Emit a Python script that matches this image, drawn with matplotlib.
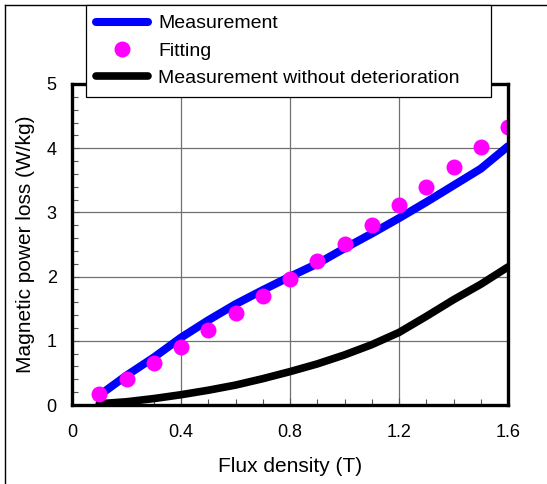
import matplotlib.pyplot as plt
from matplotlib.lines import Line2D
from matplotlib.ticker import MultipleLocator
import numpy as np

plt.rcParams['font.family'] = ['Liberation Sans', 'DejaVu Sans']

# flux density (T)
flux = [0.1, 0.2, 0.3, 0.4, 0.5, 0.6, 0.7, 0.8, 0.9, 1.0, 1.1, 1.2, 1.3, 1.4, 1.5, 1.6]

# magnetic power loss (W/kg)
loss_measured = [0.15, 0.46, 0.74, 1.05, 1.32, 1.57, 1.79, 2.00, 2.20, 2.44, 2.67, 2.91, 3.16, 3.42, 3.68, 4.03]
loss_fitting = [0.17, 0.41, 0.65, 0.91, 1.17, 1.43, 1.70, 1.97, 2.24, 2.51, 2.81, 3.11, 3.40, 3.71, 4.02, 4.33]
loss_no_deterioration = [0.02, 0.05, 0.10, 0.16, 0.23, 0.31, 0.41, 0.52, 0.64, 0.78, 0.94, 1.13, 1.38, 1.64, 1.88, 2.15]

W, H = 547, 484
fig = plt.figure(figsize=(W / 100, H / 100), dpi=100)
ax = fig.add_axes([72 / W, 1 - 405 / H, (508 - 72) / W, (405 - 84) / H])

ax.plot(flux, loss_measured, color='#0000ff', lw=5.8, solid_capstyle='round',
        label='Measurement', zorder=3)
ax.plot(flux, loss_fitting, 'o', color='#ff00ff', ms=11.5, mec='none',
        label='Fitting', zorder=5)
ax.plot(flux, loss_no_deterioration, color='black', lw=5.5, solid_capstyle='round',
        label='Measurement without deterioration', zorder=4)

ax.set_xlim(0, 1.6)
ax.set_ylim(0, 5)
ax.xaxis.set_major_locator(MultipleLocator(0.4))
ax.xaxis.set_minor_locator(MultipleLocator(0.1))
ax.yaxis.set_major_locator(MultipleLocator(1))
ax.yaxis.set_minor_locator(MultipleLocator(0.2))
ax.set_xticks([0, 0.4, 0.8, 1.2, 1.6], ['0', '0.4', '0.8', '1.2', '1.6'])
ax.grid(True, which='major', color='#707070', lw=0.9)
ax.tick_params(which='both', direction='in', labelsize=13, color='#555555')
ax.tick_params(which='major', length=5, width=0.8)
ax.tick_params(which='minor', length=4, width=0.8)
ax.tick_params(axis='x', pad=14)
ax.tick_params(axis='y', pad=11)
for s in ax.spines.values():
    s.set_linewidth(2.4)
    s.set_zorder(6)

ax.set_xlabel('Flux density (T)', fontsize=15, labelpad=11)
ax.set_ylabel('Magnetic power loss (W/kg)', fontsize=15, labelpad=8)

leg = fig.legend(loc='upper left', bbox_to_anchor=(86 / W, 1 - 92 / H, 405 / W, 87 / H),
                 mode='expand', fontsize=14, frameon=True, fancybox=False, framealpha=1,
                 edgecolor='black', handlelength=2.7, borderpad=0.5, borderaxespad=0,
                 labelspacing=0.5, handletextpad=0.5)
leg.get_frame().set_linewidth(0.9)

# outer frame (left and top edges visible)
fig.add_artist(Line2D([5 / W, 5 / W], [0, 1 - 5 / H], transform=fig.transFigure,
                      color='black', lw=1))
fig.add_artist(Line2D([5 / W, 1], [1 - 5 / H, 1 - 5 / H], transform=fig.transFigure,
                      color='black', lw=1))

fig.savefig('out.png', dpi=100)
